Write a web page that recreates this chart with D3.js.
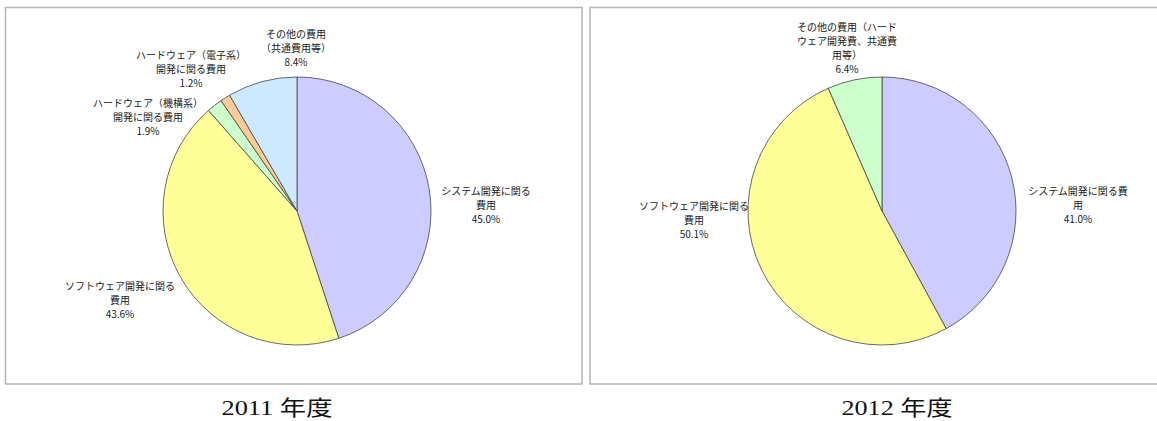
<!DOCTYPE html>
<html>
<head>
<meta charset="utf-8">
<title>費用の内訳 2011年度・2012年度</title>
<style>
body {
  margin: 0;
  background: #fff;
}

.frame {
  fill: #fff;
  stroke: #b4b4b4;
  stroke-width: 1.5;
}

.slice {
  stroke: #444;
  stroke-width: 0.8;
}

.label {
  font-family: "Noto Sans CJK JP", sans-serif;
  font-size: 10px;
  fill: #1a1a1a;
}

.caption {
  font-family: "Liberation Serif", "Noto Sans CJK JP", serif;
  font-size: 21px;
  fill: #111;
}
</style>
</head>
<body>
<div id="vis"></div>

<script src="https://cdn.jsdelivr.net/npm/d3@7"></script>
<script>

// 2011年度
var categories2011 = [
  "システム開発に関る\n費用",
  "ソフトウェア開発に関る\n費用",
  "ハードウェア（機構系）\n開発に関る費用",
  "ハードウェア（電子系）\n開発に関る費用",
  "その他の費用\n（共通費用等）"
];
var values2011 = [45.0, 43.6, 1.9, 1.2, 8.4];

// 2012年度
var categories2012 = [
  "システム開発に関る費\n用",
  "ソフトウェア開発に関る\n費用",
  "その他の費用（ハード\nウェア開発費、共通費\n用等）"
];
var values2012 = [41.0, 50.1, 6.4];

var captions = ["2011 年度", "2012 年度"];

var colors2011 = ["#ccccff", "#ffff99", "#ccffcc", "#ffcc99", "#cce9ff"];
var colors2012 = ["#ccccff", "#ffff99", "#ccffcc"];

// label anchor offsets from the pie centre (first line centre)
var labelPos2011 = [[189, -20], [-177, 75], [-149, -108], [-106, -156], [-1, -177]];
var labelPos2012 = [[196, -20], [-188, -5], [-35, -184]];

var width = 1157,
    height = 421,
    radius = 134,
    lineH = 14;

var svg = d3.select("#vis").append("svg")
    .attr("width", width)
    .attr("height", height);

var charts = [
  {cats: categories2011, vals: values2011, colors: colors2011, pos: labelPos2011,
   box: [5.5, 7.5, 576.5, 376.5], cx: 297, cy: 211, caption: captions[0], capX: 277},
  {cats: categories2012, vals: values2012, colors: colors2012, pos: labelPos2012,
   box: [590, 7.5, 580, 376.5], cx: 882, cy: 211, caption: captions[1], capX: 897}
];

var pie = d3.pie()
    .sort(null)
    .value(function(d) { return d; });

var arc = d3.arc()
    .innerRadius(0)
    .outerRadius(radius);

charts.forEach(function(c) {
  // Chart frame
  svg.append("rect")
      .attr("class", "frame")
      .attr("x", c.box[0])
      .attr("y", c.box[1])
      .attr("width", c.box[2])
      .attr("height", c.box[3]);

  var g = svg.append("g")
      .attr("transform", "translate(" + c.cx + "," + c.cy + ")");

  var color = d3.scaleOrdinal()
      .domain(c.cats)
      .range(c.colors);

  var arcs = pie(c.vals);

  g.selectAll(".slice")
      .data(arcs)
      .enter()
      .append("path")
      .attr("class", "slice")
      .attr("d", arc)
      .style("fill", function(d, i) { return color(c.cats[i]); });

  // Labels: category lines + percentage
  var labels = g.selectAll(".label")
      .data(arcs)
      .enter()
      .append("text")
      .attr("class", "label")
      .attr("text-anchor", "middle")
      .attr("transform", function(d, i) {
        return "translate(" + c.pos[i][0] + "," + c.pos[i][1] + ")";
      });

  labels.each(function(d, i) {
    var lines = c.cats[i].split("\n").concat([c.vals[i].toFixed(1) + "%"]);
    d3.select(this).selectAll("tspan")
        .data(lines)
        .enter()
        .append("tspan")
        .attr("x", 0)
        .attr("y", function(l, j) { return j * lineH + 3.7; })
        .text(function(l) { return l; });
  });

  // Caption below the frame
  svg.append("text")
      .attr("class", "caption")
      .attr("x", c.capX)
      .attr("y", 415)
      .attr("text-anchor", "middle")
      .attr("textLength", 111)
      .attr("lengthAdjust", "spacingAndGlyphs")
      .text(c.caption);
});

</script>
</body>
</html>
